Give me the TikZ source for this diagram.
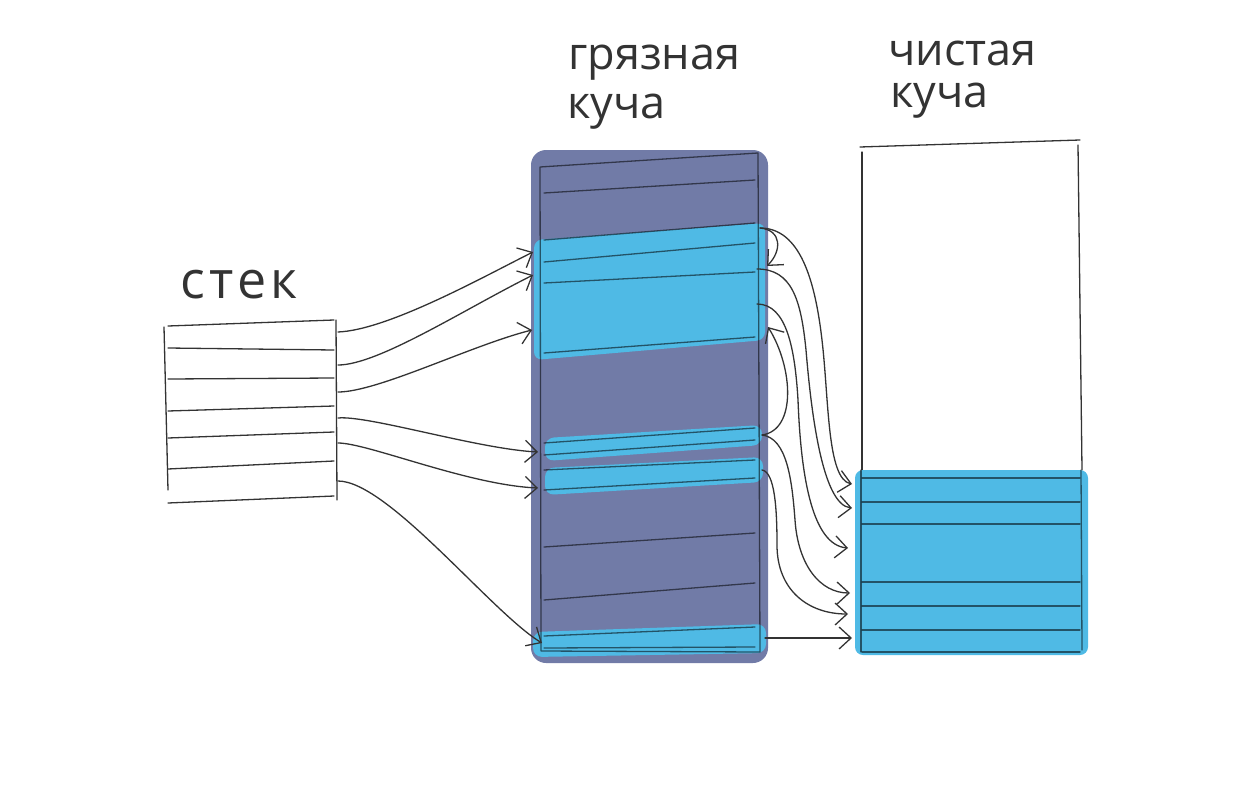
\documentclass[tikz,border=0pt]{standalone}
\usepackage{fontspec}
\newfontfamily\hand{Open Sans}
\usetikzlibrary{arrows.meta}
\definecolor{dirty}{HTML}{717BA7}
\definecolor{live}{HTML}{4FBAE5}
\definecolor{pencil}{HTML}{333333}

\begin{document}
\begin{tikzpicture}[line cap=round,line join=round,>={Straight Barb[length=12pt,width=22pt]},x=1pt,y=-1pt,
    pen/.style={draw=pencil, line width=1.3pt},
    ink/.style={draw=black, opacity=0.55, line width=1.3pt},
    ptr/.style={pen, ->},
    lbl/.style={font=\hand\fontsize{45}{45}\selectfont, inner sep=0pt, text=pencil, anchor=base west}]

    \useasboundingbox (0,0) rectangle (1260,800);

    % stack
    \node[lbl, font=\hand\fontsize{52}{52}\selectfont\addfontfeature{LetterSpace=8}] (stack) at (180,298) {стек};
    \draw[pen] (164,327) -- (168,490);
    \draw[pen] (336,320) -- (337,500);
    \foreach \l/\r in {326/320,348/350,379/378,411/406,438/432,469/461,503/496}
        \draw[pen] (168,\l) -- (334,\r);

    % dirty heap
    \node[lbl] (dirtyA) at (568,70) {грязная};
    \node[lbl] (dirtyB) at (567,118) {куча};
    \fill[dirty, rounded corners=15pt] (531,150) rectangle (768,663);
    \fill[live, rounded corners=8pt] (534,240) -- (765,223) -- (765,340) -- (534,360) -- cycle;
    \fill[live, rounded corners=9pt] (545,438) -- (762,425) -- (762,445) -- (545,461) -- cycle;
    \fill[live, rounded corners=9pt] (545,468) -- (763,457) -- (763,482) -- (545,495) -- cycle;
    \fill[live, rounded corners=9pt] (533,632) -- (766,624) -- (766,653) -- (533,657) -- cycle;
    \draw[ink] (540,167) -- (541,651) -- (760,652) -- (758,153) -- cycle;
    \foreach \l/\r in {193/180,240/223,262/243,283/272,353/337,443/428,455/440,470/460,490/478,547/533,600/583,636/627,648/647}
        \draw[ink] (544,\l) -- (755,\r);

    % clean heap
    \node[lbl] (cleanA) at (888,66) {чистая};
    \node[lbl] (cleanB) at (890,107) {куча};
    \draw[pen] (860,147) -- (1080,140);
    \draw[pen] (862,152) -- (862,470);
    \draw[pen] (1078,145) -- (1082,470);
    \fill[live, rounded corners=8pt] (855,470) rectangle (1088,655);
    \draw[ink] (861,470) -- (861,652);
    \draw[ink] (1081,470) -- (1082,650);
    \foreach \y in {478,502,524,582,606,630,652}
        \draw[ink] (862,\y) -- (1080,\y);

    % pointers
    \coordinate (s1) at (338,332);
    \coordinate (s2) at (338,365);
    \coordinate (s3) at (338,392);
    \coordinate (s4) at (338,418);
    \coordinate (s5) at (338,443);
    \coordinate (s6) at (338,481);
    \coordinate (d1) at (533,252);
    \coordinate (d2) at (533,275);
    \coordinate (d3) at (532,330);
    \coordinate (d4) at (538,452);
    \coordinate (d5) at (538,488);
    \coordinate (d6) at (542,643);
    \coordinate (o1) at (760,228);
    \coordinate (o2) at (757,269);
    \coordinate (o3) at (757,304);
    \coordinate (o4) at (762,435);
    \coordinate (o5) at (762,470);
    \coordinate (o6) at (765,638);
    \coordinate (h1) at (767,266);
    \coordinate (h2) at (768,327);
    \coordinate (c1) at (852,484);
    \coordinate (c2) at (852,508);
    \coordinate (c3) at (848,548);
    \coordinate (c4) at (850,593);
    \coordinate (c5) at (848,614);
    \coordinate (c6) at (852,638);

    \draw[ptr] (s1) .. controls +(50,-2) and +(-50,25) .. (d1);
    \draw[ptr] (s2) .. controls +(40,0) and +(-70,35) .. (d2);
    \draw[ptr] (s3) .. controls +(40,0) and +(-60,15) .. (d3);
    \draw[ptr] (s4) .. controls +(30,-3) and +(-60,-3) .. (d4);
    \draw[ptr] (s5) .. controls +(30,0) and +(-70,-3) .. (d5);
    \draw[ptr] (s6) .. controls +(50,0) and +(-50,-30) .. (d6);

    \draw[ptr] (o1) .. controls +(22,2) and +(15,-15) .. (h1);
    \draw[ptr] (o1) .. controls +(40,0) and +(-7,-60) .. (822,340) .. controls +(7,60) and +(-25,-5) .. (c1);
    \draw[ptr] (o2) .. controls +(35,0) and +(-5,-50) .. (806,350) .. controls +(5,60) and +(-30,-3) .. (c2);
    \draw[ptr] (o3) .. controls +(30,0) and +(-3,-50) .. (798,400) .. controls +(3,80) and +(-35,-3) .. (c3);
    \draw[ptr] (o4) .. controls +(35,-5) and +(25,40) .. (h2);
    \draw[ptr] (o4) .. controls +(25,3) and +(-3,-40) .. (795,520) .. controls +(3,45) and +(-30,0) .. (c4);
    \draw[ptr] (o5) .. controls +(13,2) and +(0,-35) .. (777,545) .. controls +(0,45) and +(-40,0) .. (c5);
    \draw[ptr] (o6) -- (c6);
\end{tikzpicture}
\end{document}
